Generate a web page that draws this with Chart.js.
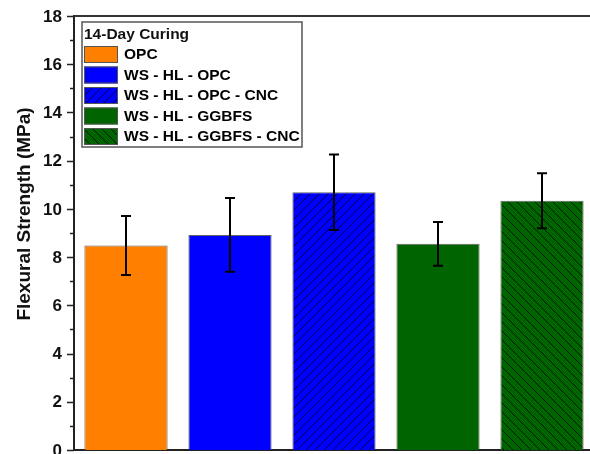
<!DOCTYPE html>
<html>
<head>
<meta charset="utf-8">
<script src="https://cdn.jsdelivr.net/npm/chart.js@4.4.1/dist/chart.umd.min.js"></script>
<style>
  html, body { margin: 0; padding: 0; background: #fff; overflow: hidden; }
  #wrap { width: 590px; height: 454px; overflow: hidden; }
</style>
</head>
<body>
<div id="wrap"><canvas id="c" width="600" height="454"></canvas></div>
<script>
// Flexural strength after 14 days of curing
const categories = ['OPC', 'WS - HL - OPC', 'WS - HL - OPC - CNC', 'WS - HL - GGBFS', 'WS - HL - GGBFS - CNC'];
const strength = [8.48, 8.92, 10.69, 8.55, 10.34];
const strengthErr = [1.22, 1.53, 1.57, 0.91, 1.14];
const yTickValues = [0, 2, 4, 6, 8, 10, 12, 14, 16, 18];
const legendTitle = '14-Day Curing';
const yAxisTitle = 'Flexural Strength (MPa)';

// bar styling
const barColors = ['#FF8000', '#0000FF', '#0000FF', '#006400', '#006400'];
const barHatch = [null, null, 'fwd', null, 'back'];

const FONT = '"Liberation Sans", Arial, sans-serif';

function hatchPattern(ctx, color, dir) {
  const s = 9;
  const pc = document.createElement('canvas');
  pc.width = s; pc.height = s;
  const p = pc.getContext('2d');
  p.fillStyle = color;
  p.fillRect(0, 0, s, s);
  p.strokeStyle = 'rgba(0,0,0,0.9)';
  p.lineWidth = 0.8;
  p.beginPath();
  if (dir === 'fwd') {
    p.moveTo(-1, s + 1); p.lineTo(s + 1, -1);
    p.moveTo(-1, 1); p.lineTo(1, -1);
    p.moveTo(s - 1, s + 1); p.lineTo(s + 1, s - 1);
  } else {
    p.moveTo(-1, -1); p.lineTo(s + 1, s + 1);
    p.moveTo(s - 1, -1); p.lineTo(s + 1, 1);
    p.moveTo(-1, s - 1); p.lineTo(1, s + 1);
  }
  p.stroke();
  return ctx.createPattern(pc, 'repeat');
}

const canvas = document.getElementById('c');
const ctx0 = canvas.getContext('2d');
const fills = barColors.map((c, i) => barHatch[i] ? hatchPattern(ctx0, c, barHatch[i]) : c);

// error bars drawn on top of each bar
const errorBars = {
  id: 'errorBars',
  afterDatasetsDraw(chart) {
    const ctx = chart.ctx;
    const y = chart.scales.y;
    const meta = chart.getDatasetMeta(0);
    ctx.save();
    ctx.strokeStyle = '#000';
    ctx.lineWidth = 2;
    meta.data.forEach((el, i) => {
      const top = y.getPixelForValue(strength[i] + strengthErr[i]);
      const bot = y.getPixelForValue(strength[i] - strengthErr[i]);
      const x = el.x;
      ctx.beginPath();
      ctx.moveTo(x, top); ctx.lineTo(x, bot);
      ctx.moveTo(x - 5, top); ctx.lineTo(x + 5, top);
      ctx.moveTo(x - 5, bot); ctx.lineTo(x + 5, bot);
      ctx.stroke();
    });
    ctx.restore();
  }
};

// frame, y tick marks and labels, axis title and boxed legend
const decorations = {
  id: 'decorations',
  afterDraw(chart) {
    const ctx = chart.ctx;
    const a = chart.chartArea;
    const y = chart.scales.y;
    ctx.save();

    // top and right frame lines
    ctx.strokeStyle = '#333';
    ctx.lineWidth = 2;
    ctx.beginPath();
    ctx.moveTo(a.left, a.top); ctx.lineTo(a.right, a.top); ctx.lineTo(a.right, a.bottom);
    ctx.stroke();

    // tick marks: major every 2, minor in between
    ctx.strokeStyle = '#222';
    ctx.lineWidth = 1.5;
    ctx.beginPath();
    for (let v = y.min; v <= y.max; v += 1) {
      const py = Math.round(y.getPixelForValue(v)) + 0.5;
      const len = (v % 2 === 0) ? 7 : 4;
      ctx.moveTo(a.left - len, py); ctx.lineTo(a.left, py);
    }
    ctx.stroke();

    // tick labels
    ctx.fillStyle = '#111';
    ctx.font = 'bold 17px ' + FONT;
    ctx.textAlign = 'right';
    ctx.textBaseline = 'middle';
    yTickValues.forEach(v => {
      ctx.fillText(String(v), a.left - 12, y.getPixelForValue(v) + 1);
    });

    // y axis title
    ctx.save();
    ctx.translate(25, 214);
    ctx.rotate(-Math.PI / 2);
    ctx.fillStyle = '#111';
    ctx.font = 'bold 19px ' + FONT;
    ctx.textAlign = 'center';
    ctx.textBaseline = 'middle';
    ctx.fillText(yAxisTitle, 0, 0);
    ctx.restore();

    // legend
    const lx = 82, ly = 22, lw = 220, lh = 125;
    ctx.fillStyle = '#fff';
    ctx.fillRect(lx, ly, lw, lh);
    ctx.strokeStyle = '#555';
    ctx.lineWidth = 1.5;
    ctx.strokeRect(lx, ly, lw, lh);
    ctx.font = 'bold 15.5px ' + FONT;
    ctx.textAlign = 'left';
    ctx.textBaseline = 'middle';
    ctx.fillStyle = '#111';
    ctx.fillText(legendTitle, 84, 35);
    categories.forEach((lab, i) => {
      const cy = 54.5 + i * 20.5;
      ctx.fillStyle = fills[i];
      ctx.fillRect(84, cy - 8.5, 34, 17);
      ctx.strokeStyle = '#555';
      ctx.lineWidth = 1;
      ctx.strokeRect(84.5, cy - 8, 33, 16);
      ctx.fillStyle = '#000';
      ctx.fillText(lab, 124, cy + 0.5);
    });
    ctx.restore();
  }
};

new Chart(canvas, {
  type: 'bar',
  data: {
    labels: categories,
    datasets: [{
      data: strength,
      backgroundColor: fills,
      borderColor: 'rgba(70,70,70,0.85)',
      borderWidth: 1,
      barPercentage: 0.8,
      categoryPercentage: 1.0
    }]
  },
  options: {
    responsive: false,
    animation: false,
    devicePixelRatio: 1,
    layout: { padding: { left: 0, top: 16, right: 6, bottom: 4 } },
    plugins: { legend: { display: false }, tooltip: { enabled: false } },
    scales: {
      x: {
        ticks: { display: false },
        grid: { display: false, drawTicks: false },
        border: { display: true, color: '#222', width: 2 },
        afterFit(s) { s.height = 0; }
      },
      y: {
        min: 0,
        max: 18,
        afterBuildTicks(s) { s.ticks = yTickValues.map(v => ({ value: v })); },
        ticks: { display: false },
        grid: { display: false, drawTicks: false },
        border: { display: true, color: '#222', width: 2 },
        afterFit(s) { s.width = 74; }
      }
    }
  },
  plugins: [errorBars, decorations]
});
</script>
</body>
</html>
